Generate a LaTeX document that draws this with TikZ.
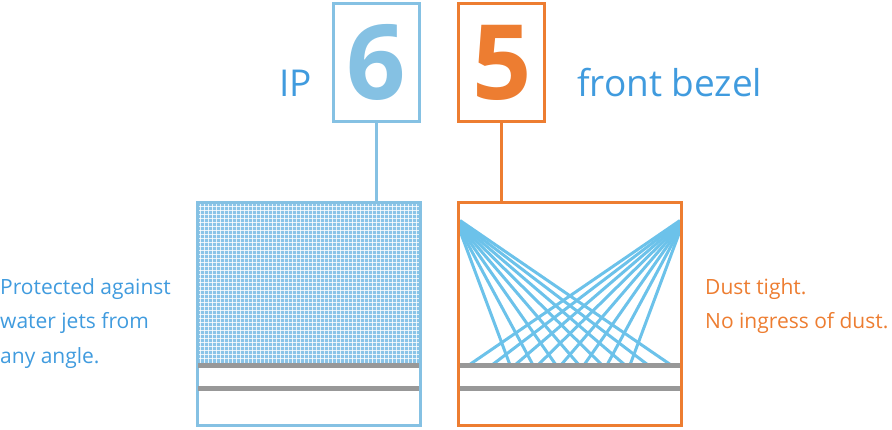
\documentclass[tikz,border=0pt]{standalone}
\usepackage{fontspec}
\setmainfont{Open Sans}
\usepackage{xcolor}
\usepackage{tikz}
\usetikzlibrary{positioning, calc}
\definecolor{ipblue}{RGB}{133, 193, 227}
\definecolor{textblue}{RGB}{64, 155, 222}
\definecolor{jetblue}{RGB}{108, 194, 234}
\definecolor{meshblue}{RGB}{138, 196, 232}
\definecolor{dustorange}{RGB}{237, 125, 49}
\definecolor{barsgray}{RGB}{152, 152, 152}

\begin{document}
\begin{tikzpicture}[
  x=1pt, y=-1pt,
  every node/.style={inner sep=0pt},
  digitbox/.style={draw, line width=3.3pt, minimum width=86pt, minimum height=118pt,
    font=\fontsize{104}{104}\selectfont\bfseries},
  panel/.style={draw, line width=3pt, minimum width=223pt, minimum height=223pt},
  label/.style={font=\fontsize{37}{37}\selectfont, textblue, anchor=base west},
  note/.style={font=\fontsize{21}{34.5}\selectfont, align=left, anchor=base west},
  jet/.style={jetblue, line width=3pt},
  bar/.style={barsgray, line width=5pt}
]
  \useasboundingbox (0,0) rectangle (892,429);

  % Rating digits
  \node[digitbox, ipblue] (six) at (376.4,62.5) {6};
  \node[digitbox, dustorange] (five) at (501.7,62.5) {5};
  \node[label] (ip) at (279,96.7) {IP};
  \node[label] (bezel) at (577,96.7) {front bezel};

  % Water mesh
  \fill[meshblue] (198,204) rectangle (419,363);
  \foreach \x in {200.5,204.5,...,418} {
    \draw[white, line width=1pt, opacity=0.8] (\x,204) -- (\x,363);
  }
  \foreach \y in {206.5,210.5,...,362} {
    \draw[white, line width=1pt, opacity=0.8] (198,\y) -- (419,\y);
  }

  % Dust beams
  \foreach \k in {0,...,7} {
    \draw[jet] (460,231-1.5*\k) -- (510+23*\k,365);
    \draw[jet] (680,231-1.5*\k) -- (630-23*\k,365);
  }

  % Panels
  \node[panel, ipblue] (water) at (308.5,314) {};
  \node[panel, dustorange] (dust) at (570,314) {};
  \foreach \y in {365.5,388} {
    \draw[bar] (198,\y) -- (419,\y);
    \draw[bar] (460,\y) -- (680,\y);
  }

  % Connectors
  \draw[ipblue, line width=3.3pt] (six.south) -- (six.south |- water.north);
  \draw[dustorange, line width=3.3pt] (five.south) -- (five.south |- dust.north);

  % Descriptions
  \node[note, textblue] (waterdesc) at (0,363) {Protected against\\water jets from\\any angle.};
  \node[note, dustorange] (dustdesc) at (705,328.5) {Dust tight.\\No ingress of dust.};
\end{tikzpicture}
\end{document}
